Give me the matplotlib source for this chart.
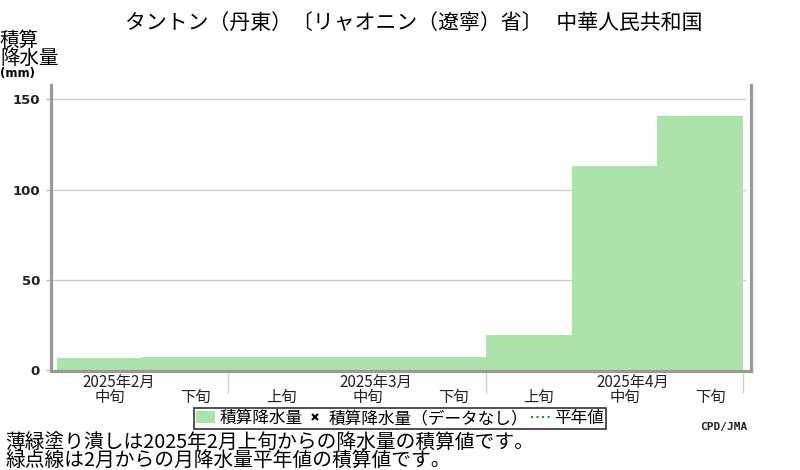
import numpy as np
import matplotlib
matplotlib.use('Agg')
import matplotlib.pyplot as plt
from matplotlib.patches import Patch
from matplotlib.lines import Line2D
import matplotlib.transforms as mtransforms

plt.rcParams['font.family'] = ['Noto Sans CJK JP', 'DejaVu Sans']

# decades shown on the x axis (2025 Feb mid .. Apr late)
decade_labels = ['中旬', '下旬', '上旬', '中旬', '下旬', '上旬', '中旬', '下旬']
month_labels = ['2025年2月', '2025年3月', '2025年4月']
month_pos = [0, 3, 6]          # decade index the month label sits over
month_bounds = [2, 5, 8]        # decade index where a month ends
precip = [6.8, 7.4, 7.4, 7.4, 7.4, 19.4, 113.3, 140.6]   # cumulative mm
yticks = [0, 50, 100, 150]

title = 'タントン（丹東）〔リャオニン（遼寧）省〕   中華人民共和国'
ylab = '積算\n降水量'
notes = ('薄緑塗り潰しは2025年2月上旬からの降水量の積算値です。\n'
         '緑点線は2月からの月降水量平年値の積算値です。')

bar_color = '#abe3ab'
spine_color = '#999999'
grid_color = '#cccccc'

W, H = 800, 470
fig = plt.figure(figsize=(8, 4.7), dpi=100)
ax = fig.add_axes([50.5 / W, 1 - 370.8 / H, 700 / W, (370.8 - 85) / H])

x = np.arange(len(precip))
ax.bar(x, precip, width=1.0, align='edge', color=bar_color, linewidth=0, zorder=2)

ax.set_xlim(-0.072, 8.086)
ax.set_ylim(-0.44, 157.9)

for v in yticks[1:]:
    ax.axhline(v, xmin=0, xmax=0.992, color=grid_color, linewidth=1, zorder=1)

ax.set_yticks(yticks)
ax.set_yticklabels([str(v) for v in yticks], fontfamily='DejaVu Sans',
                   fontweight='bold', fontsize=9.5, color='#222222')
ax.tick_params(axis='y', length=3.5, width=1, color='#bbbbbb', pad=4)
ax.set_xticks([])

for side in ['left', 'bottom', 'right']:
    ax.spines[side].set_color(spine_color)
    ax.spines[side].set_linewidth(2.3)
    ax.spines[side].set_zorder(5)
ax.spines['top'].set_visible(False)

trans = mtransforms.blended_transform_factory(ax.transData, ax.transAxes)
ax.vlines(month_bounds, -0.078, -0.008, transform=trans, color=grid_color,
          linewidth=1, clip_on=False)
for i, lab in enumerate(decade_labels):
    ax.text(i + 0.62, -0.095, lab, transform=trans, ha='center', va='center',
            fontsize=11, color='#222222')
for p, lab in zip(month_pos, month_labels):
    ax.text(p + 0.72, -0.040, lab, transform=trans, ha='center', va='center',
            fontsize=11, color='#222222')

fig.text(414 / W, 1 - 23 / H, title, ha='center', va='center', fontsize=15)
fig.text(0.0, 1 - 30 / H, ylab, ha='left', va='top', fontsize=14,
         linespacing=0.8)
fig.text(0.0, 1 - 74 / H, '(mm)', ha='left', va='center', fontsize=8.5,
         fontfamily='DejaVu Sans', fontweight='bold')

handles = [Patch(facecolor=bar_color, edgecolor='none'),
           Line2D([], [], linestyle='none', marker='x', color='black',
                  markersize=4, markeredgewidth=1.5),
           Line2D([], [], linestyle=':', color='#119911', linewidth=1.5)]
labels = ['積算降水量', '積算降水量（データなし）', '平年値']
leg = fig.legend(handles, labels, loc='center', bbox_to_anchor=(0.5, 1 - 418.5 / H),
                 ncol=3, fontsize=12, frameon=True, fancybox=False,
                 edgecolor='black', handlelength=1.15, handletextpad=0.25,
                 columnspacing=0.15, borderpad=0.12, borderaxespad=0)
leg.get_frame().set_linewidth(1.2)

fig.text(700 / W, 1 - 427 / H, 'CPD/JMA', ha='left', va='center', fontsize=8,
         fontfamily='DejaVu Sans Mono', fontweight='bold', color='#222222')
fig.text(5 / W, 1 - 433 / H, notes, ha='left', va='top', fontsize=14.2,
         linespacing=0.74)

fig.savefig('out.png', dpi=100)
